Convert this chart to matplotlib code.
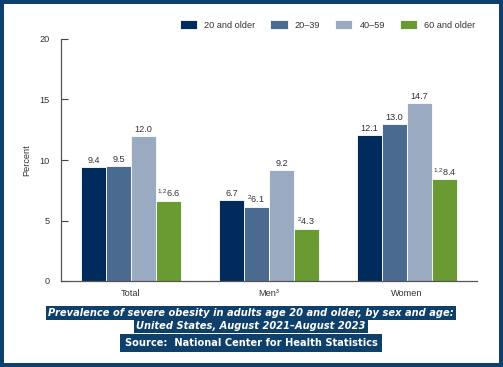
import numpy as np
import matplotlib.pyplot as plt
from matplotlib.patches import Rectangle

plt.rcParams['font.family'] = ['Liberation Sans', 'DejaVu Sans']
plt.rcParams['mathtext.fontset'] = 'custom'
plt.rcParams['mathtext.rm'] = 'Liberation Sans'
plt.rcParams['mathtext.it'] = 'Liberation Sans:italic'

# data
groups = ['Total', 'Men³', 'Women']
series = ['20 and older', '20–39', '40–59', '60 and older']
age20_older = [9.4, 6.7, 12.1]
age20_39 = [9.5, 6.1, 13.0]
age40_59 = [12.0, 9.2, 14.7]
age60_older = [6.6, 4.3, 8.4]
notes = [['', '', '', '1{,}2'],
         ['', '2', '', '2'],
         ['', '', '', '1{,}2']]

colors = ['#002b5c', '#4b6a8f', '#9aaac1', '#6a9b33']
border = '#0f3f6b'
grey = '#333333'
fs = 6.6

fig = plt.figure(figsize=(5.03, 3.67), dpi=100)
fig.patch.set_facecolor(border)
# white inner panel
fig.add_artist(Rectangle((4/503, 4/367), 1 - 8/503, 1 - 8/367,
                         transform=fig.transFigure, facecolor='white',
                         edgecolor='none', zorder=0))

ax = fig.add_axes([61/503, 1 - 281/367, 416/503, 242/367])
ax.set_facecolor('none')

x = np.arange(len(groups))
w = 0.181
values = [age20_older, age20_39, age40_59, age60_older]
for i, (vals, c, name) in enumerate(zip(values, colors, series)):
    pos = x + (i - 1.5) * w
    ax.bar(pos, vals, width=w, color=c, edgecolor='white', linewidth=0.6,
           label=name)
    for j, v in enumerate(vals):
        note = notes[j][i]
        txt = f'{v:.1f}' if not note else f'$^{{{note}}}${v:.1f}'
        ax.text(pos[j], v + 0.15, txt, ha='center', va='bottom',
                fontsize=fs, color=grey)

ax.set_xlim(-0.507, 2.507)
ax.set_ylim(0, 20)
ax.set_yticks([0, 5, 10, 15, 20])
ax.set_xticks(x)
ax.set_xticklabels(groups)
ax.tick_params(axis='x', length=0, labelsize=fs, colors=grey, pad=6)
ax.tick_params(axis='y', direction='in', length=5, labelsize=fs,
               colors=grey, color='#444444', pad=8)
ax.set_ylabel('Percent', fontsize=fs, color=grey, labelpad=6)
for s in ['top', 'right']:
    ax.spines[s].set_visible(False)
for s in ['left', 'bottom']:
    ax.spines[s].set_color('#555555')
    ax.spines[s].set_linewidth(0.9)

fig.legend(loc='center right', bbox_to_anchor=(484/503, 1 - 25/367), ncol=4,
           frameon=False, fontsize=fs, handlelength=1.9, handleheight=1.0,
           columnspacing=1.6, handletextpad=0.8, labelcolor=grey)

cap = dict(facecolor=border, edgecolor='none', pad=1.8)
cap_font = dict(ha='center', va='center', color='white', fontsize=7.1,
                fontweight='bold', family='DejaVu Sans')
fig.text(251/503, 1 - 313/367,
         'Prevalence of severe obesity in adults age 20 and older, by sex and age:',
         fontstyle='italic', bbox=cap, **cap_font)
fig.text(251/503, 1 - 326/367, 'United States, August 2021–August 2023',
         fontstyle='italic', bbox=cap, **cap_font)
fig.text(251/503, 1 - 343/367, 'Source:  National Center for Health Statistics',
         bbox=dict(facecolor=border, edgecolor='none', pad=3), **cap_font)

fig.savefig('out.png', dpi=100, facecolor=fig.get_facecolor())
